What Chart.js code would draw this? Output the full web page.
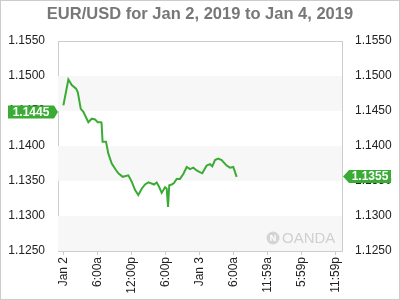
<!DOCTYPE html>
<html>
<head>
<meta charset="utf-8">
<script src="https://cdn.jsdelivr.net/npm/chart.js@4"></script>
<style>
html,body{margin:0;padding:0;background:#fff;}
#wrap{width:400px;height:300px;position:relative;}
</style>
</head>
<body>
<div id="wrap"><canvas id="c" width="400" height="300"></canvas></div>
<script>
// ---- data ----
const titleText = 'EUR/USD for Jan 2, 2019 to Jan 4, 2019';
// hours since Jan 2 00:00
const hours = [0,0.88,1.48,2.24,2.54,3.07,3.53,4.41,5.01,5.59,6.07,6.65,6.74,6.92,7.53,7.94,8.54,9.25,9.71,10.48,11.47,12.07,12.66,13.23,13.83,14.42,15.0,15.7,16.0,16.48,16.94,17.36,17.95,18.25,18.48,18.7,19.13,19.53,20.01,20.59,21.18,21.78,22.36,22.94,23.54,24.0,24.53,25.3,25.89,26.29,26.77,27.35,27.95,28.83,29.42,30.0,30.6];
const rates = [1.1458,1.1495,1.1487,1.1482,1.1477,1.1453,1.1449,1.1434,1.1439,1.1438,1.1434,1.1434,1.1433,1.1406,1.1406,1.1389,1.1375,1.1366,1.1361,1.1356,1.1358,1.1349,1.1337,1.1330,1.1339,1.1345,1.1348,1.1346,1.1345,1.1348,1.1341,1.1333,1.1341,1.1339,1.1313,1.1344,1.1345,1.1347,1.1353,1.1353,1.1360,1.1370,1.1367,1.1369,1.1365,1.1363,1.1361,1.1372,1.1374,1.1371,1.1380,1.1382,1.1380,1.1372,1.1369,1.1370,1.1356];
const xTickHours = [0,6,12,18,24,30,36,42,48];
const xTickLabels = ['Jan 2','6:00a','12:00p','6:00p','Jan 3','6:00a','11:59a','5:59p','11:59p'];
const yMin = 1.125, yMax = 1.155, yStep = 0.005;
const bandRanges = [[1.145,1.150],[1.135,1.140],[1.125,1.130]];
const leftTag = 1.1445;
const rightTag = 1.1355;

const GREEN = '#3aac35';
const FONT = "'Liberation Sans', Arial, sans-serif";

const decor = {
  id: 'decor',
  beforeDatasetsDraw(chart) {
    const {ctx, chartArea: a, scales} = chart;
    const y = scales.y;
    ctx.save();
    ctx.fillStyle = '#f7f7f7';
    bandRanges.forEach(([lo, hi]) => {
      const y1 = y.getPixelForValue(hi), y2 = y.getPixelForValue(lo);
      ctx.fillRect(a.left, y1, a.right - a.left, y2 - y1);
    });
    // watermark
    ctx.fillStyle = '#d4d4d4';
    ctx.beginPath();
    ctx.arc(a.right - 69, a.bottom - 13, 6.5, 0, Math.PI * 2);
    ctx.fill();
    ctx.fillStyle = '#fff';
    ctx.font = 'bold 9px ' + FONT;
    ctx.textAlign = 'center';
    ctx.textBaseline = 'middle';
    ctx.fillText('N', a.right - 69, a.bottom - 12.5);
    ctx.fillStyle = '#d0d0d0';
    ctx.font = '15px ' + FONT;
    ctx.textAlign = 'left';
    ctx.fillText('OANDA', a.right - 60, a.bottom - 12);
    // top frame line
    ctx.strokeStyle = '#cccccc';
    ctx.lineWidth = 1;
    ctx.beginPath();
    ctx.moveTo(a.left, Math.round(a.top) + 0.5);
    ctx.lineTo(a.right, Math.round(a.top) + 0.5);
    ctx.stroke();
    ctx.restore();
  },
  afterDraw(chart) {
    const {ctx, chartArea: a, scales} = chart;
    ctx.save();
    // outer border
    ctx.strokeStyle = '#cccccc';
    ctx.lineWidth = 1;
    ctx.strokeRect(0.5, 0.5, chart.width - 1, chart.height - 1);
    // title
    ctx.fillStyle = '#777777';
    ctx.font = 'bold 16.5px ' + FONT;
    ctx.textAlign = 'center';
    ctx.textBaseline = 'middle';
    ctx.fillText(titleText, chart.width / 2, 14);
    // tags
    const drawTag = (val, side, shift) => {
      const yc = scales.y.getPixelForValue(val) + shift;
      const h = 13;
      ctx.fillStyle = GREEN;
      ctx.beginPath();
      if (side === 'left') {
        const tip = a.left, r = tip - 4, l = 8;
        ctx.moveTo(l, yc - h / 2); ctx.lineTo(r, yc - h / 2); ctx.lineTo(tip, yc);
        ctx.lineTo(r, yc + h / 2); ctx.lineTo(l, yc + h / 2);
      } else {
        const tip = a.right + 1, l = tip + 6, r = 391;
        ctx.moveTo(tip, yc); ctx.lineTo(l, yc - h / 2); ctx.lineTo(r, yc - h / 2);
        ctx.lineTo(r, yc + h / 2); ctx.lineTo(l, yc + h / 2);
      }
      ctx.closePath();
      ctx.fill();
      ctx.fillStyle = '#fff';
      ctx.font = 'bold 12px ' + FONT;
      ctx.textBaseline = 'middle';
      ctx.textAlign = 'center';
      const cx = side === 'left' ? (8 + a.left - 4) / 2 : (a.right + 7 + 391) / 2;
      ctx.fillText(val.toFixed(4), cx, yc + 0.5);
    };
    drawTag(leftTag, 'left', -2.5);
    drawTag(rightTag, 'right', -1);
    ctx.restore();
  }
};

const yAxis = (pos, w) => ({
  position: pos,
  min: yMin, max: yMax,
  afterBuildTicks: s => {
    const t = [];
    for (let v = yMin; v <= yMax + 1e-9; v += yStep) t.push({value: +v.toFixed(4)});
    s.ticks = t;
  },
  ticks: {
    callback: v => v.toFixed(4),
    color: '#222', font: {size: 12, family: FONT}, padding: 5
  },
  grid: {display: false},
  border: {color: '#cccccc'},
  afterFit: s => { s.width = w; }
});

new Chart(document.getElementById('c'), {
  type: 'line',
  data: {
    datasets: [{
      data: hours.map((h, i) => ({x: h, y: rates[i]})),
      borderColor: GREEN,
      borderWidth: 2,
      pointRadius: 0,
      tension: 0,
      fill: false
    }]
  },
  options: {
    responsive: false,
    animation: false,
    devicePixelRatio: 1,
    layout: {padding: {top: 41, left: 0, right: 0, bottom: 0}},
    plugins: {legend: {display: false}, title: {display: false}, tooltip: {enabled: false}},
    scales: {
      x: {
        type: 'linear',
        min: -0.95, max: 49.2,
        afterBuildTicks: s => { s.ticks = xTickHours.map(v => ({value: v})); },
        ticks: {
          autoSkip: false, maxRotation: 90, minRotation: 90,
          callback: v => xTickLabels[xTickHours.indexOf(v)],
          color: '#222', font: {size: 12, family: FONT}, padding: 2
        },
        grid: {drawOnChartArea: false, drawTicks: true, tickLength: 4, color: '#cccccc'},
        border: {color: '#cccccc'},
        afterFit: s => { s.height = 49; }
      },
      y: yAxis('left', 58),
      y2: yAxis('right', 58)
    }
  },
  plugins: [decor]
});
</script>
</body>
</html>
